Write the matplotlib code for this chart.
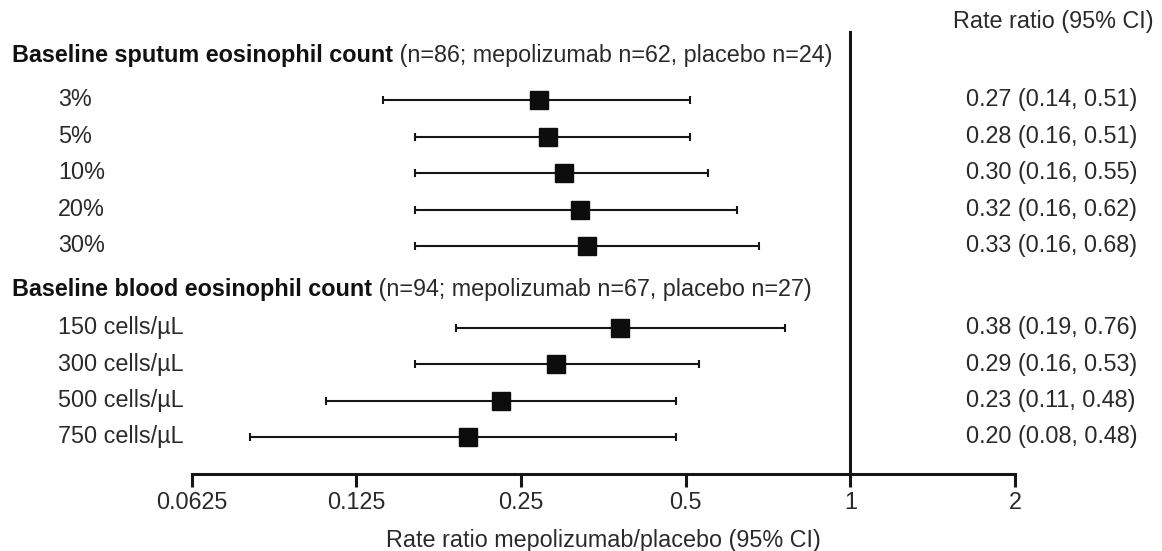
import matplotlib
matplotlib.use('Agg')
import matplotlib.pyplot as plt
from matplotlib.transforms import Affine2D

plt.rcParams['font.family'] = ['Liberation Sans', 'DejaVu Sans']

# ---- data ----
sputum_header_bold = 'Baseline sputum eosinophil count'
sputum_header_rest = ' (n=86; mepolizumab n=62, placebo n=24)'
sputum_labels = ['3%', '5%', '10%', '20%', '30%']
sputum_rr = [0.27, 0.28, 0.30, 0.32, 0.33]
sputum_lo = [0.14, 0.16, 0.16, 0.16, 0.16]
sputum_hi = [0.51, 0.51, 0.55, 0.62, 0.68]

blood_header_bold = 'Baseline blood eosinophil count'
blood_header_rest = ' (n=94; mepolizumab n=67, placebo n=27)'
blood_labels = ['150 cells/µL', '300 cells/µL', '500 cells/µL', '750 cells/µL']
blood_rr = [0.38, 0.29, 0.23, 0.20]
blood_lo = [0.19, 0.16, 0.11, 0.08]
blood_hi = [0.76, 0.53, 0.48, 0.48]

xticks = [0.0625, 0.125, 0.25, 0.5, 1, 2]
xtick_labels = ['0.0625', '0.125', '0.25', '0.5', '1', '2']
xlabel = 'Rate ratio mepolizumab/placebo (95% CI)'
col_header = 'Rate ratio (95% CI)'

# ---- layout (pixel rows, from top) ----
W, H = 1162, 551
FS = 16.8
DARK = '#161616'
GREY = '#2a2a2a'
y_sputum = [100 + 36.6 * i for i in range(len(sputum_labels))]
y_blood = [328 + 36.5 * i for i in range(len(blood_labels))]
y_head1, y_head2 = 56, 290
ax_top, ax_bot = 31, 474
ax_left, ax_right = 191.5, 1015

fig = plt.figure(figsize=(W / 100, H / 100), dpi=100)
ax = fig.add_axes([ax_left / W, (H - ax_bot) / H, (ax_right - ax_left) / W, (ax_bot - ax_top) / H])
ax.set_xscale('log', base=2)
ax.set_xlim(xticks[0], xticks[-1])
ax.set_ylim(ax_bot, ax_top)

px = Affine2D().scale(1 / W, -1 / H).translate(0, 1) + fig.transFigure

def draw_group(ys, rr, lo, hi):
    for y, r, l, h in zip(ys, rr, lo, hi):
        ax.errorbar([r], [y], xerr=[[r - l], [h - r]], fmt='none', ecolor=DARK,
                    elinewidth=1.5, capsize=2.6, capthick=1.5, zorder=2)
        ax.plot([r], [y], marker='s', markersize=13, color='#0d0d0d', zorder=3)

draw_group(y_sputum, sputum_rr, sputum_lo, sputum_hi)
draw_group(y_blood, blood_rr, blood_lo, blood_hi)

ax.axvline(1, color=DARK, lw=2.2, zorder=1)

for s in ['top', 'right', 'left']:
    ax.spines[s].set_visible(False)
ax.spines['bottom'].set_linewidth(2.2)
ax.spines['bottom'].set_color(DARK)
ax.set_yticks([])
ax.set_xticks(xticks)
ax.set_xticklabels(xtick_labels, fontsize=FS, color=GREY)
ax.minorticks_off()
ax.tick_params(axis='x', length=9, width=2.2, color=DARK, pad=3)
ax.set_xlabel(xlabel, fontsize=FS, color=GREY, labelpad=11)

def txt(x, y, s, color=GREY, **kw):
    return fig.text(x, y + 6, s, transform=px, fontsize=FS, color=color, va='baseline', **kw)

# headers
for yh, b, rest in [(y_head1, sputum_header_bold, sputum_header_rest),
                    (y_head2, blood_header_bold, blood_header_rest)]:
    tb = txt(12, yh, b, fontweight='bold', color='#111111')
    ax.annotate(rest, xy=(1, 0), xycoords=tb, fontsize=FS, color=GREY,
                va='bottom', ha='left', annotation_clip=False)

txt(953, 22, col_header)

for labels, ys, rr, lo, hi in [(sputum_labels, y_sputum, sputum_rr, sputum_lo, sputum_hi),
                               (blood_labels, y_blood, blood_rr, blood_lo, blood_hi)]:
    for lab, y, r, l, h in zip(labels, ys, rr, lo, hi):
        txt(58, y, lab)
        txt(966, y, f'{r:.2f} ({l:.2f}, {h:.2f})')

fig.savefig('out.png', dpi=100, facecolor='white')
